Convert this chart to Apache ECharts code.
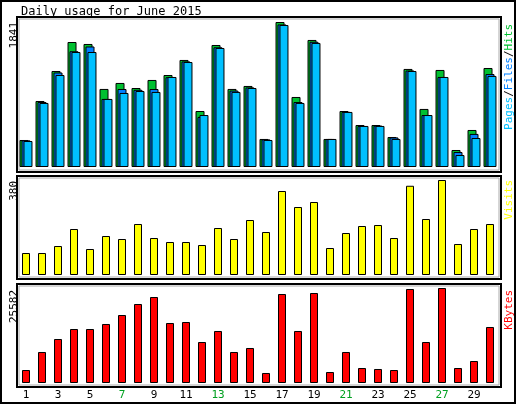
<!DOCTYPE html>
<html><head><meta charset="utf-8">
<script src="https://cdn.jsdelivr.net/npm/echarts@6/dist/echarts.min.js"></script>
<style>html,body{margin:0;padding:0;background:#fff}#c{width:517px;height:405px}</style>
</head><body><div id="c"></div>
<script>
var days = ['1','2','3','4','5','6','7','8','9','10','11','12','13','14','15','16','17','18','19','20','21','22','23','24','25','26','27','28','29','30'];
var weekend = ['6','7','13','14','20','21','27','28'];
var hits  = [343,838,1219,1587,1562,991,1067,1003,1105,1168,1359,711,1549,991,1029,356,1841,889,1613,356,711,533,533,381,1245,737,1232,216,470,1257];
var files = [338,825,1200,1470,1530,864,990,980,990,1140,1340,635,1520,970,1010,350,1810,825,1590,356,700,520,525,375,1225,660,1143,190,420,1180];
var pages = [330,813,1168,1460,1460,864,940,965,953,1143,1333,660,1511,953,1003,343,1803,813,1575,356,699,521,521,356,1219,660,1143,152,368,1156];
var visits = [88,88,116,184,104,156,144,204,148,132,132,120,188,144,220,172,336,272,292,108,168,196,200,148,357,224,380,124,184,204];
var kbytes = [3500,8348,11848,14541,14541,15888,18311,21273,23158,16157,16426,11040,14003,8348,9425,2693,23966,14003,24235,2962,8348,4039,3770,3500,25313,11040,25582,4039,5924,15080];

var F = '"DejaVu Sans Mono", monospace';
var hitsMax = Math.max.apply(null, hits), visMax = Math.max.apply(null, visits), kbMax = Math.max.apply(null, kbytes);
var chart = echarts.init(document.getElementById('c'));
function xa(i, show){
  return {type:'category', gridIndex:i, data:days, axisLine:{show:false}, axisTick:{show:false},
    axisLabel:{show:show, fontFamily:F, fontSize:11, margin:7,
      color:function(v){return weekend.indexOf(v)>=0?'#00a020':'#000';}}};
}
function ya(i, m){ return {type:'value', gridIndex:i, min:0, max:m, show:false}; }
var bs = {borderColor:'#000', borderWidth:1};
function box(y,h){ return [
  {type:'rect', shape:{x:17,y:y,width:484,height:h}, style:{fill:'none', stroke:'#000', lineWidth:2}},
  {type:'rect', shape:{x:19,y:y+2,width:480,height:h-4}, style:{fill:'none', stroke:'#aaa', lineWidth:1}}
];}
function upText(x,y,txt,color){ return {type:'text', x:x, y:y, rotation:Math.PI/2,
  style:{text:txt, fill:color, font:'11px '+F, align:'right', verticalAlign:'middle'}}; }
chart.setOption({
  animation:false,
  grid:[{left:18,top:17,width:480,height:150},{left:18,top:176,width:480,height:99},{left:18,top:288,width:480,height:95}],
  xAxis:[xa(0,false),xa(1,false),xa(2,true)],
  yAxis:[ya(0,hitsMax*150/145), ya(1,visMax*99/95), ya(2,kbMax)],
  series:[
    {type:'bar', xAxisIndex:0, yAxisIndex:0, data:hits, barWidth:9, barGap:'-78%', itemStyle:Object.assign({color:'#00c030'},bs)},
    {type:'bar', xAxisIndex:0, yAxisIndex:0, data:files, barWidth:9, barGap:'-78%', itemStyle:Object.assign({color:'#0080ff'},bs)},
    {type:'bar', xAxisIndex:0, yAxisIndex:0, data:pages, barWidth:9, barGap:'-78%', itemStyle:Object.assign({color:'#00c0ff'},bs)},
    {type:'bar', xAxisIndex:1, yAxisIndex:1, data:visits, barWidth:8, itemStyle:Object.assign({color:'#ffff00'},bs)},
    {type:'bar', xAxisIndex:2, yAxisIndex:2, data:kbytes, barWidth:8, itemStyle:Object.assign({color:'#ff0000'},bs)}
  ],
  graphic:[
    {type:'rect', shape:{x:1,y:1,width:514,height:402}, style:{fill:'none', stroke:'#000', lineWidth:2}},
    {type:'text', x:21, y:12, style:{text:'Daily usage for June 2015', fill:'#000', font:'12px '+F, verticalAlign:'middle'}}
  ].concat(box(17,155), box(176,103), box(284,103), [
    upText(14,22,String(hitsMax),'#000'),
    upText(14,181,String(visMax),'#000'),
    upText(14,290,String(kbMax),'#000'),
    {type:'text', x:509, y:24, rotation:Math.PI/2,
      style:{text:'{p|Pages}{s|/}{f|Files}{s|/}{h|Hits}', font:'11px '+F, align:'right', verticalAlign:'middle',
        rich:{p:{fill:'#00c0ff',font:'11px '+F},f:{fill:'#0080ff',font:'11px '+F},h:{fill:'#00c030',font:'11px '+F},s:{fill:'#000',font:'11px '+F}}}},
    upText(509,180,'Visits','#ffff00'),
    upText(509,290,'KBytes','#ff0000')
  ])
});
</script></body></html>
